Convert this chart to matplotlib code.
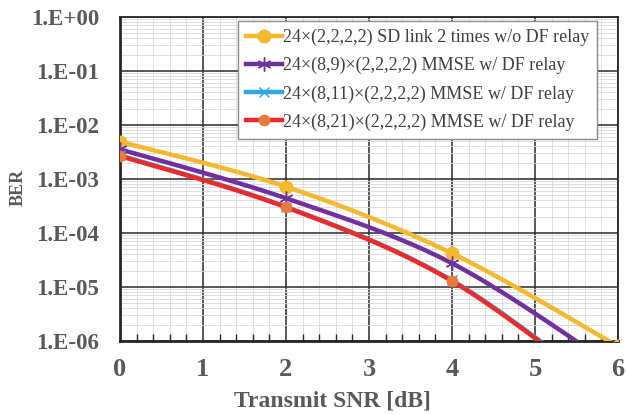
import numpy as np
import matplotlib
matplotlib.use("Agg")
import matplotlib.pyplot as plt
from matplotlib.ticker import FixedLocator, FuncFormatter, LogLocator, NullFormatter

snr = [0, 2, 4, 6]
ber_sd = [4.9e-3, 7.2e-4, 4.2e-5, 8.0e-7]
ber_89 = [3.55e-3, 4.4e-4, 2.75e-5, 3.0e-7]
ber_811 = [2.75e-3, 3.05e-4, 1.32e-5, 8.0e-8]
ber_821 = [2.67e-3, 3.0e-4, 1.29e-5, 7.5e-8]
labels = ["24×(2,2,2,2) SD link 2 times w/o DF relay",
          "24×(8,9)×(2,2,2,2) MMSE w/ DF relay",
          "24×(8,11)×(2,2,2,2) MMSE w/ DF relay",
          "24×(8,21)×(2,2,2,2) MMSE w/ DF relay"]
xticks = [0, 1, 2, 3, 4, 5, 6]
yticks = [1e-6, 1e-5, 1e-4, 1e-3, 1e-2, 1e-1, 1e0]
ytick_labels = ["1.E-06", "1.E-05", "1.E-04", "1.E-03", "1.E-02", "1.E-01", "1.E+00"]


def smooth(x, y, n=40):
    # Excel-like smoothed line (Catmull-Rom Bezier) in (x, log10 y) space
    P = np.column_stack([np.asarray(x, float), np.log10(y)])
    ext = np.vstack([P[0], P, P[-1]])
    out = []
    for i in range(len(P) - 1):
        p0, p1, p2, p3 = ext[i], ext[i + 1], ext[i + 2], ext[i + 3]
        c1 = p1 + (p2 - p0) / 6.0
        c2 = p2 - (p3 - p1) / 6.0
        t = np.linspace(0, 1, n)[:, None]
        seg = ((1 - t) ** 3) * p1 + 3 * ((1 - t) ** 2) * t * c1 + 3 * (1 - t) * t ** 2 * c2 + t ** 3 * p2
        out.append(seg if i == 0 else seg[1:])
    s = np.vstack(out)
    return s[:, 0], 10 ** s[:, 1]

plt.rcParams['font.family'] = ['Liberation Serif', 'DejaVu Serif']
fig = plt.figure(figsize=(6.26, 4.15), dpi=100)
ax = fig.add_axes([120 / 626, 1 - 341 / 415, (618 - 120) / 626, (341 - 17) / 415])

series = [
    (ber_sd, '#F5B82E', dict(marker='o', ms=9, mfc='#F5B82E', mec='#F5B82E'), 3.2),
    (ber_89, '#7030A0', dict(marker=(6, 2, 0), ms=10, mec='#7030A0', mew=1.0), 3.2),
    (ber_811, '#2FA8E0', dict(marker='x', ms=7, mec='#2FA8E0', mew=1.0), 3.2),
    (ber_821, '#EE2A2A', dict(marker='o', ms=7.5, mfc='#E87A3C', mec='#E87A3C'), 3.2),
]
handles = []
for (y, col, mk, lw), lab in zip(series, labels):
    sx, sy = smooth(snr, y)
    ax.plot(sx, sy, color=col, lw=lw, zorder=3, clip_on=True)
    ax.plot(snr, y, ls='none', zorder=4, clip_on=True, **mk)
    h, = ax.plot([], [], color=col, lw=lw, **mk)
    handles.append(h)

ax.set_yscale('log')
ax.set_xlim(0, 6)
ax.set_ylim(1e-6, 1)
ax.xaxis.set_major_locator(FixedLocator(xticks))
ax.xaxis.set_minor_locator(FixedLocator(np.arange(0, 6.01, 0.2)))
ax.yaxis.set_major_locator(FixedLocator(yticks))
ax.yaxis.set_major_formatter(FuncFormatter(lambda v, p: ytick_labels[yticks.index(min(yticks, key=lambda t: abs(np.log10(t) - np.log10(v))))]))
ax.yaxis.set_minor_locator(LogLocator(base=10, subs=np.arange(2, 10), numticks=20))
ax.yaxis.set_minor_formatter(NullFormatter())

ax.grid(True, which='major', color='#2a2a2a', lw=1.1, zorder=1)
ax.grid(True, which='minor', color='#d9d9d9', lw=0.6, zorder=0)
ax.set_axisbelow(True)
for sp in ax.spines.values():
    sp.set_color('#262626')
    sp.set_linewidth(1.3)
ax.spines['bottom'].set_linewidth(2.0)
ax.spines['left'].set_linewidth(2.0)

ax.tick_params(axis='x', which='major', length=0, pad=12, labelsize=19, labelcolor='#595959')
ax.tick_params(axis='x', which='minor', direction='in', length=5, color='#262626', width=1.0)
ax.tick_params(axis='y', which='major', length=0, pad=15, labelsize=16.5, labelcolor='#595959')
ax.tick_params(axis='y', which='minor', length=0)
for t in ax.get_xticklabels() + ax.get_yticklabels():
    t.set_fontweight('bold')

ax.set_xlabel('Transmit SNR [dB]', fontsize=17, fontweight='bold', color='#595959')
ax.xaxis.set_label_coords(0.427, -0.152)
ax.set_ylabel('BER', fontsize=13, fontweight='bold', color='#595959')
ax.yaxis.set_label_coords(-0.205, 0.475)
ax.yaxis.label.set_va('center')

leg = ax.legend(handles, labels, loc='upper right', bbox_to_anchor=(0.958, 0.988),
                fontsize=13, frameon=True, fancybox=False, framealpha=1,
                edgecolor='#8c8c8c', handlelength=2.0, handletextpad=0.05,
                borderpad=0.45, labelspacing=0.6, borderaxespad=0.0)
leg.get_frame().set_linewidth(1.0)
for t in leg.get_texts():
    t.set_color('#404040')
leg.set_zorder(10)

fig.savefig('out.png', dpi=100)
